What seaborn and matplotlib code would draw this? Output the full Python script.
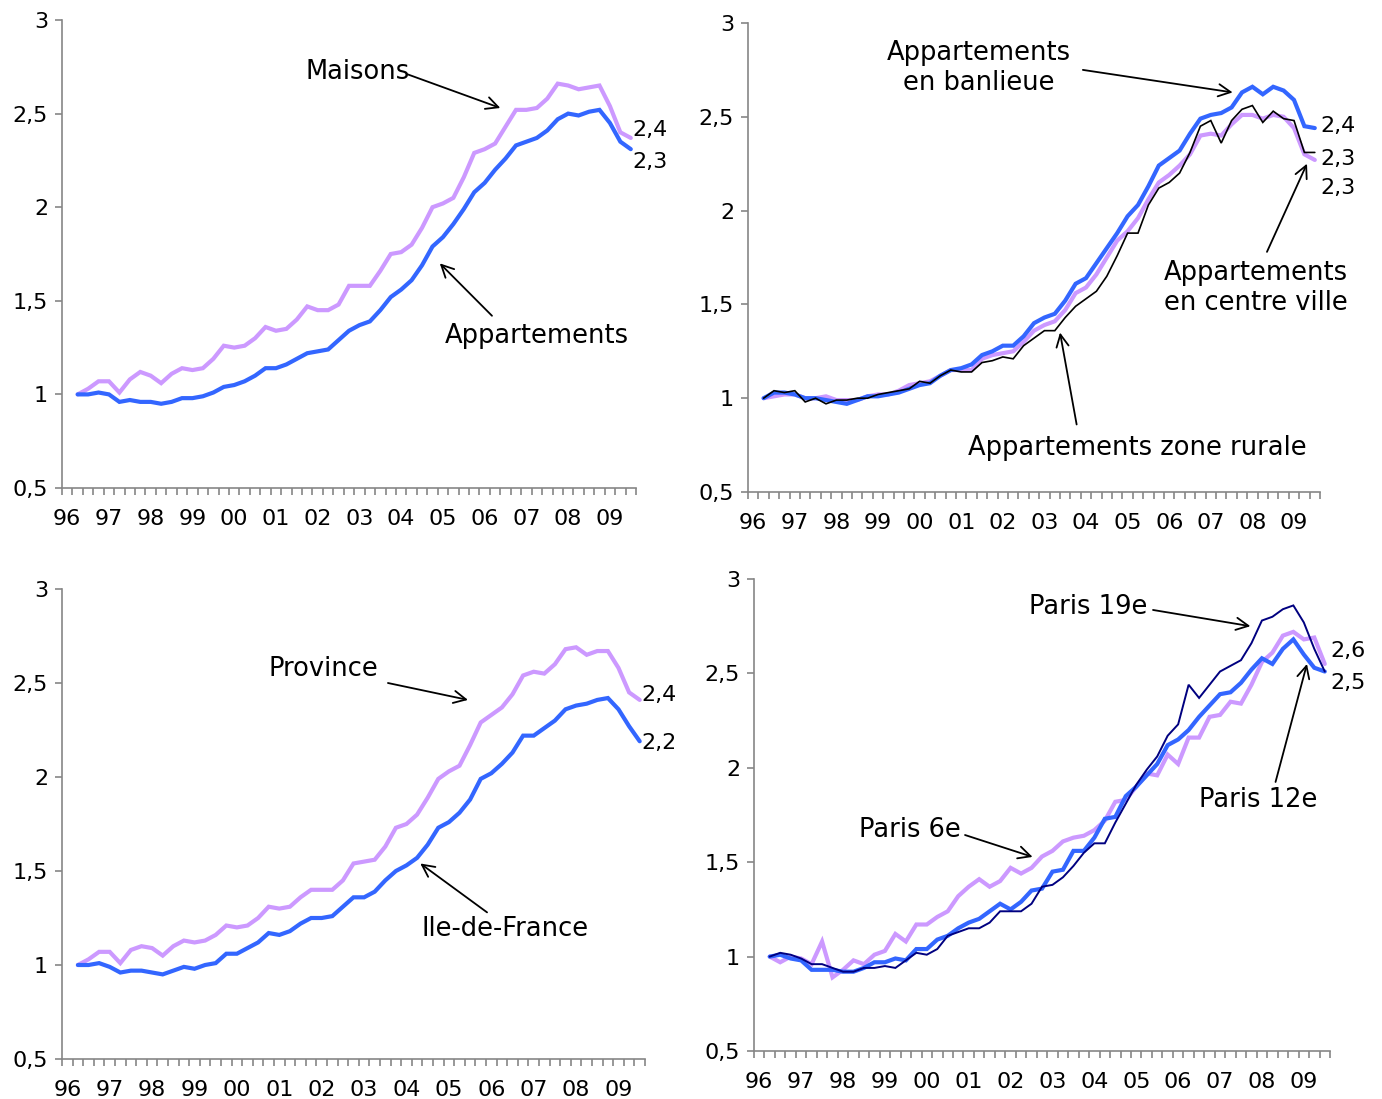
import numpy as np
import pandas as pd
import matplotlib
matplotlib.use("Agg")
import matplotlib.pyplot as plt
import seaborn as sns

# ---------------- data ----------------
years = ["96", "97", "98", "99", "00", "01", "02", "03", "04", "05", "06", "07", "08", "09"]
quarters = list(range(1, 55))  # category positions of the quarterly points

maisons = [1.00, 1.03, 1.07, 1.07, 1.01, 1.08, 1.12, 1.10, 1.06, 1.11, 1.14, 1.13, 1.14, 1.19,
           1.26, 1.25, 1.26, 1.30, 1.36, 1.34, 1.35, 1.40, 1.47, 1.45, 1.45, 1.48, 1.58, 1.58,
           1.58, 1.66, 1.75, 1.76, 1.80, 1.89, 2.00, 2.02, 2.05, 2.16, 2.29, 2.31, 2.34, 2.43,
           2.52, 2.52, 2.53, 2.58, 2.66, 2.65, 2.63, 2.64, 2.65, 2.54, 2.40, 2.37]
appartements = [1.00, 1.00, 1.01, 1.00, 0.96, 0.97, 0.96, 0.96, 0.95, 0.96, 0.98, 0.98, 0.99, 1.01,
                1.04, 1.05, 1.07, 1.10, 1.14, 1.14, 1.16, 1.19, 1.22, 1.23, 1.24, 1.29, 1.34, 1.37,
                1.39, 1.45, 1.52, 1.56, 1.61, 1.69, 1.79, 1.84, 1.91, 1.99, 2.08, 2.13, 2.20, 2.26,
                2.33, 2.35, 2.37, 2.41, 2.47, 2.50, 2.49, 2.51, 2.52, 2.45, 2.35, 2.31]

banlieue = [1.00, 1.03, 1.03, 1.02, 1.00, 1.00, 0.99, 0.98, 0.97, 0.99, 1.01, 1.01, 1.02, 1.03,
            1.05, 1.07, 1.08, 1.12, 1.15, 1.16, 1.18, 1.23, 1.25, 1.28, 1.28, 1.33, 1.40, 1.43,
            1.45, 1.52, 1.61, 1.64, 1.72, 1.80, 1.88, 1.97, 2.03, 2.13, 2.24, 2.28, 2.32, 2.41,
            2.49, 2.51, 2.52, 2.55, 2.63, 2.66, 2.62, 2.66, 2.64, 2.59, 2.45, 2.44]
centre_ville = [1.00, 1.01, 1.02, 1.02, 1.00, 1.00, 1.01, 0.99, 0.99, 0.99, 1.01, 1.02, 1.02, 1.04,
                1.07, 1.08, 1.09, 1.12, 1.15, 1.15, 1.15, 1.21, 1.23, 1.24, 1.25, 1.30, 1.36, 1.39,
                1.41, 1.47, 1.56, 1.59, 1.66, 1.75, 1.84, 1.89, 1.96, 2.06, 2.15, 2.19, 2.24, 2.30,
                2.40, 2.41, 2.40, 2.46, 2.51, 2.51, 2.49, 2.51, 2.50, 2.44, 2.30, 2.27]
rurale = [1.00, 1.04, 1.03, 1.04, 0.98, 1.00, 0.97, 0.99, 0.99, 1.00, 1.00, 1.02, 1.03, 1.04,
          1.05, 1.09, 1.08, 1.12, 1.15, 1.14, 1.14, 1.19, 1.20, 1.22, 1.21, 1.28, 1.32, 1.36,
          1.36, 1.43, 1.49, 1.53, 1.57, 1.65, 1.76, 1.88, 1.88, 2.03, 2.12, 2.15, 2.20, 2.31,
          2.45, 2.48, 2.36, 2.48, 2.54, 2.56, 2.47, 2.53, 2.49, 2.48, 2.31, 2.31]

province = [1.00, 1.03, 1.07, 1.07, 1.01, 1.08, 1.10, 1.09, 1.05, 1.10, 1.13, 1.12, 1.13, 1.16,
            1.21, 1.20, 1.21, 1.25, 1.31, 1.30, 1.31, 1.36, 1.40, 1.40, 1.40, 1.45, 1.54, 1.55,
            1.56, 1.63, 1.73, 1.75, 1.80, 1.89, 1.99, 2.03, 2.06, 2.17, 2.29, 2.33, 2.37, 2.44,
            2.54, 2.56, 2.55, 2.60, 2.68, 2.69, 2.65, 2.67, 2.67, 2.58, 2.45, 2.41]
ile_de_france = [1.00, 1.00, 1.01, 0.99, 0.96, 0.97, 0.97, 0.96, 0.95, 0.97, 0.99, 0.98, 1.00, 1.01,
                 1.06, 1.06, 1.09, 1.12, 1.17, 1.16, 1.18, 1.22, 1.25, 1.25, 1.26, 1.31, 1.36, 1.36,
                 1.39, 1.45, 1.50, 1.53, 1.57, 1.64, 1.73, 1.76, 1.81, 1.88, 1.99, 2.02, 2.07, 2.13,
                 2.22, 2.22, 2.26, 2.30, 2.36, 2.38, 2.39, 2.41, 2.42, 2.36, 2.27, 2.19]

paris6 = [1.00, 0.97, 1.00, 0.99, 0.96, 1.08, 0.89, 0.93, 0.98, 0.96, 1.01, 1.03, 1.12, 1.08,
          1.17, 1.17, 1.21, 1.24, 1.32, 1.37, 1.41, 1.37, 1.40, 1.47, 1.44, 1.47, 1.53, 1.56,
          1.61, 1.63, 1.64, 1.67, 1.72, 1.82, 1.83, 1.90, 1.97, 1.96, 2.07, 2.02, 2.16, 2.16,
          2.27, 2.28, 2.35, 2.34, 2.44, 2.56, 2.61, 2.70, 2.72, 2.68, 2.69, 2.55]
paris12 = [1.00, 1.01, 0.99, 0.98, 0.93, 0.93, 0.93, 0.92, 0.92, 0.94, 0.97, 0.97, 0.99, 0.98,
           1.04, 1.04, 1.09, 1.11, 1.15, 1.18, 1.20, 1.24, 1.28, 1.25, 1.29, 1.35, 1.36, 1.45,
           1.46, 1.56, 1.56, 1.63, 1.73, 1.74, 1.85, 1.90, 1.96, 2.02, 2.12, 2.15, 2.20, 2.27,
           2.33, 2.39, 2.40, 2.45, 2.52, 2.58, 2.55, 2.63, 2.68, 2.60, 2.53, 2.51]
paris19 = [1.00, 1.02, 1.01, 0.99, 0.96, 0.96, 0.94, 0.92, 0.92, 0.94, 0.94, 0.95, 0.94, 0.98,
           1.02, 1.01, 1.04, 1.11, 1.13, 1.15, 1.15, 1.18, 1.24, 1.24, 1.24, 1.28, 1.37, 1.38,
           1.42, 1.48, 1.55, 1.60, 1.60, 1.71, 1.81, 1.91, 1.99, 2.06, 2.17, 2.23, 2.44, 2.37,
           2.44, 2.51, 2.54, 2.57, 2.66, 2.78, 2.80, 2.84, 2.86, 2.77, 2.63, 2.51]

# ---------------- style ----------------
sns.set_style("white")
plt.rcParams["font.family"] = ["DejaVu Sans"]
plt.rcParams["text.color"] = "black"
plt.rcParams["xtick.labelcolor"] = "black"
plt.rcParams["ytick.labelcolor"] = "black"

LAV = "#CC99FF"
BLUE = "#3366FF"
BLACK = "#000000"
NAVY = "#000080"
AXC = "#868686"

fig = plt.figure(figsize=(13.82, 10.99), dpi=100)
positions = [
    [62 / 1382, 1 - 488 / 1099, (636 - 62) / 1382, 468 / 1099],
    [748 / 1382, 1 - 492 / 1099, (1320 - 748) / 1382, 469 / 1099],
    [62 / 1382, 1 - 1059 / 1099, (645 - 62) / 1382, 470 / 1099],
    [754 / 1382, 1 - 1051 / 1099, (1330 - 754) / 1382, 472 / 1099],
]
axes = [fig.add_axes(p) for p in positions]

TXT = 18.5
TICK = 16
END_X = 54.2


def style_axis(ax):
    ax.set_xlim(-0.5, 54.5)
    ax.set_ylim(0.5, 3.0)
    for s in ["top", "right"]:
        ax.spines[s].set_visible(False)
    for s in ["left", "bottom"]:
        ax.spines[s].set_color(AXC)
        ax.spines[s].set_linewidth(1.2)
    ax.set_yticks([0.5, 1, 1.5, 2, 2.5, 3])
    ax.set_yticklabels(["0,5", "1", "1,5", "2", "2,5", "3"], fontsize=TICK, color="black")
    ax.set_xticks(list(range(0, 53, 4)))
    ax.set_xticklabels(years, fontsize=TICK, color="black")
    ax.set_xticks(np.arange(-0.5, 55, 1.0), minor=True)
    ax.tick_params(axis="x", which="major", length=0, pad=15)
    ax.tick_params(axis="x", which="minor", length=5, width=1.2, color=AXC, direction="out")
    ax.tick_params(axis="y", which="major", length=5, width=1.2, color=AXC, direction="out", pad=5)
    ax.tick_params(left=True, bottom=True, which="both")
    ax.set_xlabel("")
    ax.set_ylabel("")
    ax.grid(False)


def line(ax, y, color, lw, z):
    df = pd.DataFrame({"q": quarters, "v": y})
    sns.lineplot(data=df, x="q", y="v", ax=ax, color=color, linewidth=lw, zorder=z,
                 solid_joinstyle="miter")


def arrow(ax, tail, head):
    ax.annotate("", xy=head, xytext=tail,
                arrowprops=dict(arrowstyle="->", color="black", lw=1.3,
                                mutation_scale=22, shrinkA=0, shrinkB=0))


def label(ax, x, y, s, size=TXT, ha="center", **kw):
    ax.text(x, y, s, fontsize=size, ha=ha, va="center", color="black", clip_on=False, **kw)


# Panel 1
ax = axes[0]
line(ax, maisons, LAV, 3.0, 2)
line(ax, appartements, BLUE, 3.0, 3)
style_axis(ax)
label(ax, 27.8, 2.72, "Maisons")
arrow(ax, (32.6, 2.71), (41.5, 2.53))
label(ax, 45.0, 1.31, "Appartements")
arrow(ax, (40.7, 1.42), (35.7, 1.70))
label(ax, END_X, 2.41, "2,4", size=TICK, ha="left")
label(ax, END_X, 2.24, "2,3", size=TICK, ha="left")

# Panel 2
ax = axes[1]
line(ax, centre_ville, LAV, 3.0, 2)
line(ax, banlieue, BLUE, 3.0, 3)
line(ax, rurale, BLACK, 1.2, 4)
style_axis(ax)
label(ax, 21.7, 2.76, "Appartements\nen banlieue", linespacing=1.2)
arrow(ax, (31.7, 2.75), (46.1, 2.63))
label(ax, 48.3, 1.59, "Appartements\nen centre ville", linespacing=1.2)
arrow(ax, (49.4, 1.78), (53.25, 2.25))
label(ax, 36.9, 0.735, "Appartements zone rurale")
arrow(ax, (31.1, 0.86), (29.5, 1.35))
label(ax, END_X + 0.3, 2.45, "2,4", size=TICK, ha="left")
label(ax, END_X + 0.3, 2.275, "2,3", size=TICK, ha="left")
label(ax, END_X + 0.3, 2.12, "2,3", size=TICK, ha="left")

# Panel 3
ax = axes[2]
line(ax, province, LAV, 3.0, 2)
line(ax, ile_de_france, BLUE, 3.0, 3)
style_axis(ax)
label(ax, 24.2, 2.575, "Province")
arrow(ax, (30.25, 2.50), (37.8, 2.41))
label(ax, 41.3, 1.19, "Ile-de-France")
arrow(ax, (39.6, 1.28), (33.3, 1.54))
label(ax, END_X, 2.435, "2,4", size=TICK, ha="left")
label(ax, END_X, 2.18, "2,2", size=TICK, ha="left")

# Panel 4
ax = axes[3]
line(ax, paris6, LAV, 3.0, 2)
line(ax, paris12, BLUE, 3.0, 3)
line(ax, paris19, NAVY, 1.4, 4)
style_axis(ax)
label(ax, 31.4, 2.85, "Paris 19e")
arrow(ax, (37.6, 2.836), (46.9, 2.75))
label(ax, 47.6, 1.83, "Paris 12e")
arrow(ax, (49.3, 1.925), (52.3, 2.55))
label(ax, 14.4, 1.67, "Paris 6e")
arrow(ax, (19.65, 1.644), (26.1, 1.528))
label(ax, END_X + 0.3, 2.62, "2,6", size=TICK, ha="left")
label(ax, END_X + 0.3, 2.45, "2,5", size=TICK, ha="left")

fig.savefig("out.png", dpi=100)
